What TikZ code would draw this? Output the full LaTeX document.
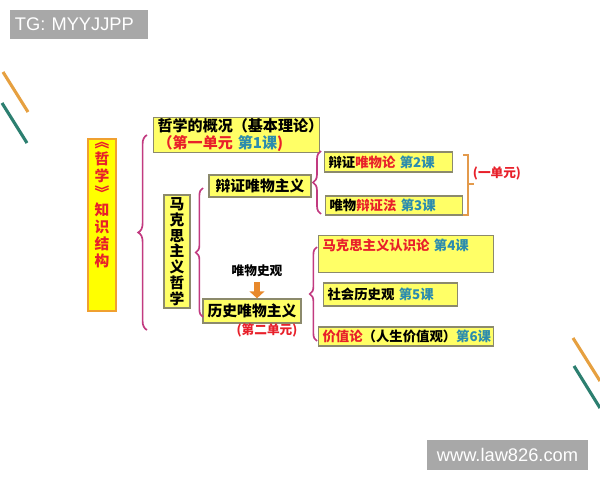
\documentclass[tikz,border=0pt]{standalone}
\usepackage{fontspec}
\setmainfont{Noto Sans CJK SC}
\newfontfamily\wmfont{Liberation Sans}
\usetikzlibrary{decorations.pathreplacing, arrows.meta}

\definecolor{boxyellow}{HTML}{FFFF66}
\definecolor{titleyellow}{HTML}{FFFF00}
\definecolor{titleborder}{HTML}{F0A030}
\definecolor{boxline}{HTML}{8C8A6C}
\definecolor{myred}{HTML}{E8202A}
\definecolor{myteal}{HTML}{2B8CAE}
\definecolor{braceline}{HTML}{C23A80}
\definecolor{bracketline}{HTML}{E39A4C}
\definecolor{arroworange}{HTML}{E8892C}
\definecolor{decoorange}{HTML}{E6A040}
\definecolor{decoteal}{HTML}{2C7F70}
\definecolor{wmgray}{HTML}{A8A8A8}

\begin{document}
\begin{tikzpicture}[
    x=0.025cm, y=-0.025cm,
    box/.style={rectangle, draw=boxline, fill=boxyellow, line width=0.9pt, inner xsep=0.1cm, inner ysep=0pt, align=left, font=\fontsize{9.5}{11}\selectfont\bfseries},
    bigtext/.style={font=\fontsize{10.5}{12}\selectfont\bfseries},
    vbox/.style={rectangle, draw=boxline, fill=boxyellow, line width=0.9pt, inner sep=0pt, align=center, font=\fontsize{10.5}{11.2}\selectfont\bfseries},
    bigbox/.style={rectangle, draw=titleborder, fill=titleyellow, line width=1pt, minimum width=0.7cm, minimum height=4.3cm},
    vtext/.style={align=center, font=\fontsize{10.5}{12.1}\selectfont\bfseries},
    plain/.style={font=\fontsize{9}{11}\selectfont\bfseries},
    grpbrace/.style={decorate, decoration={brace, amplitude=#1}, draw=braceline, line width=1.2pt},
    bracket/.style={draw=bracketline, line width=1.2pt},
    downarrow/.style={draw=arroworange, line width=4.2pt, -{Triangle[width=10.5pt, length=5pt]}},
    decoline/.style={line width=2.2pt},
    wmbox/.style={rectangle, fill=wmgray, text=white, inner sep=0pt, font=\wmfont\fontsize{13}{15}\selectfont}
]

\clip (0,0) rectangle (600,480);
\fill[white] (0,0) rectangle (600,480);

% corner decorations
\draw[decoline, draw=decoorange] (3,72) -- (28,112);
\draw[decoline, draw=decoteal] (2,103) -- (27,143);
\draw[decoline, draw=decoorange] (573,338) -- (600,381);
\draw[decoline, draw=decoteal] (574,366) -- (600,408);

% watermarks
\node[wmbox, minimum width=3.45cm, minimum height=0.725cm, text width=3.2cm, align=left] (tg) at (79,24.5) {TG: MYYJJPP};
\node[wmbox, minimum width=4.025cm, minimum height=0.75cm] (site) at (507.5,455) {www.law826.com};

% title
\node[bigbox, label={[vtext, text=myred, anchor=north, inner sep=2.5pt]north:{︽\\哲\\学\\︾\\知\\识\\结\\构}}] (zhexue) at (102,225) {};

% first level
\node[box, font=\fontsize{10.7}{12.2}\selectfont\bfseries, anchor=north west, text width=3.95cm, minimum height=0.875cm] (gaikuang) at (153,117) {哲学的概况（基本理论）\\\textcolor{myred}{（第一单元 \textcolor{myteal}{第1课})}};
\node[vbox, minimum width=0.65cm, minimum height=2.825cm] (makesi) at (177,251.5) {马\\克\\思\\主\\义\\哲\\学};

% second level
\node[box, bigtext, align=center, minimum width=2.55cm, minimum height=0.55cm] (bianzheng) at (260,186) {辩证唯物主义};
\node[box, bigtext, align=center, minimum width=2.45cm, minimum height=0.6cm] (lishi) at (252,311) {历史唯物主义};
\node[plain] (shiguan) at (257,271) {唯物史观};
\node[plain, text=myred] (danyuan2) at (267,330) {(第二单元)};
\draw[downarrow] (shiguan.south) -- (shiguan.south |- lishi.north);

% lessons
\node[box, anchor=west, text width=3.0cm, minimum height=0.5cm] (ke2) at (324,162) {辩证\textcolor{myred}{唯物论} \textcolor{myteal}{第2课}};
\node[box, anchor=west, text width=3.225cm, minimum height=0.475cm] (ke3) at (325,205.5) {唯物\textcolor{myred}{辩证法} \textcolor{myteal}{第3课}};
\node[box, anchor=north west, text width=4.175cm, text height=0.37cm, text depth=0.555cm] (ke4) at (318,235) {\textcolor{myred}{马克思主义认识论} \textcolor{myteal}{第4课}};
\node[box, anchor=west, text width=3.15cm, minimum height=0.575cm] (ke5) at (323,294.5) {社会历史观 \textcolor{myteal}{第5课}};
\node[box, anchor=west, text width=4.175cm, minimum height=0.475cm] (ke6) at (318,336.5) {\textcolor{myred}{价值论}（人生价值观）\textcolor{myteal}{第6课}};
\node[plain, text=myred] (danyuan1) at (497,173) {(一单元)};

% braces
\draw[grpbrace=0.22cm] (147,330) -- (147,135);
\draw[grpbrace=0.18cm] (203,317) -- (203,188);
\draw[grpbrace=0.2cm] (321,214) -- (321,151);
\draw[grpbrace=0.18cm] (317,341) -- (317,247);

% bracket for the first unit
\draw[bracket] (463,155) -- (468,155) -- (468,215) -- (463,215);
\draw[bracket] (468,184) -- (474,184);

\end{tikzpicture}
\end{document}
